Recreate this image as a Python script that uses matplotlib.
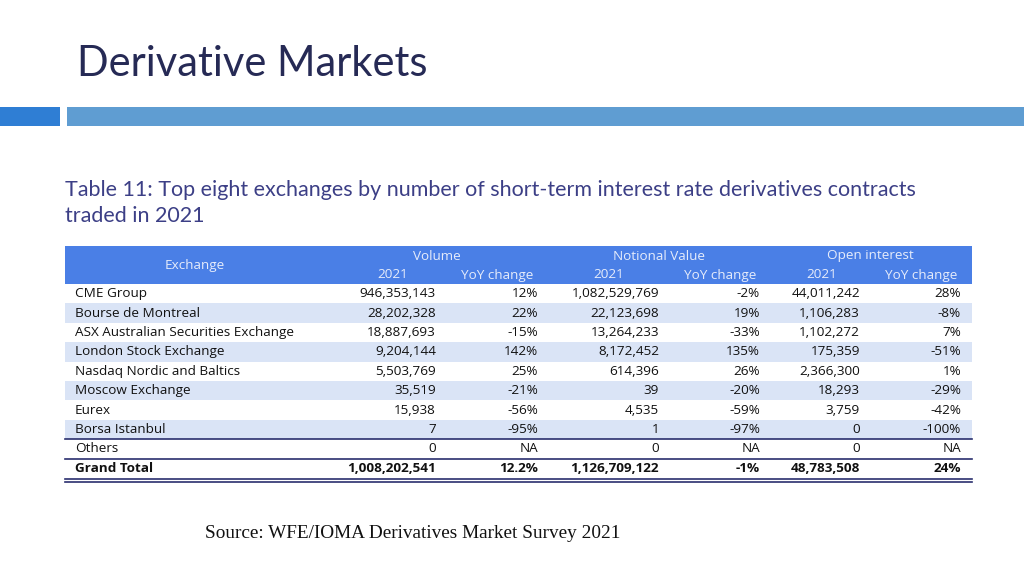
import matplotlib
matplotlib.use("Agg")
import matplotlib.pyplot as plt
from matplotlib.patches import Rectangle

# ---- data ----
exchanges = ["CME Group", "Bourse de Montreal", "ASX Australian Securities Exchange",
             "London Stock Exchange", "Nasdaq Nordic and Baltics", "Moscow Exchange",
             "Eurex", "Borsa Istanbul", "Others"]
volume_2021 = [946353143, 28202328, 18887693, 9204144, 5503769, 35519, 15938, 7, 0]
volume_yoy = ["12%", "22%", "-15%", "142%", "25%", "-21%", "-56%", "-95%", "NA"]
notional_2021 = [1082529769, 22123698, 13264233, 8172452, 614396, 39, 4535, 1, 0]
notional_yoy = ["-2%", "19%", "-33%", "135%", "26%", "-20%", "-59%", "-97%", "NA"]
oi_2021 = [44011242, 1106283, 1102272, 175359, 2366300, 18293, 3759, 0, 0]
oi_yoy = ["28%", "-8%", "7%", "-51%", "1%", "-29%", "-42%", "-100%", "NA"]
total_label = "Grand Total"
total_values = [1008202541, "12.2%", 1126709122, "-1%", 48783508, "24%"]
group_headers = ["Volume", "Notional Value", "Open interest"]
sub_headers = ["2021", "YoY change"]

title = "Derivative Markets"
table_title = ["Table 11: Top eight exchanges by number of short-term interest rate derivatives contracts",
               "traded in 2021"]
source = "Source: WFE/IOMA Derivatives Market Survey 2021"

# ---- figure ----
fig = plt.figure(figsize=(10.24, 5.76), dpi=100)
ax = fig.add_axes([0, 0, 1, 1])
ax.set_xlim(0, 1024)
ax.set_ylim(576, 0)
ax.axis("off")

tfont = "Lato"

ax.text(77, 64, title, fontsize=30, color="#262a55", family=tfont, va="center", ha="left")

# blue bars
ax.add_patch(Rectangle((0, 107), 60, 19, color="#2f7ed4", lw=0))
ax.add_patch(Rectangle((67, 107), 957, 19, color="#5f9dd2", lw=0))

ax.text(65, 190, table_title[0], fontsize=15.5, color="#3c3f86", family=tfont, va="center")
ax.text(65, 216, table_title[1], fontsize=15.5, color="#3c3f86", family=tfont, va="center")

# table geometry
x0, x1 = 65, 972
hdr_top, hdr_bot = 246, 284
row_h = 19.4
fs = 9.7
cfont = "Open Sans"

ax.add_patch(Rectangle((x0, hdr_top), x1 - x0, hdr_bot - hdr_top, color="#4a7fe6", lw=0))
hdr_col = "#e6ecfb"
ax.text(195, 265, "Exchange", fontsize=fs, color=hdr_col, family=cfont, ha="center", va="center")
group_centers = [437, 659, 870]
for g, cx in zip(group_headers, group_centers):
    ax.text(cx, 256, g, fontsize=fs, color=hdr_col, family=cfont, ha="center", va="center")
sub_centers = [(393, 497), (609, 720), (822, 921)]
for c2021, cyoy in sub_centers:
    ax.text(c2021, 275, sub_headers[0], fontsize=fs, color=hdr_col, family=cfont, ha="center", va="center")
    ax.text(cyoy, 275, sub_headers[1], fontsize=fs, color=hdr_col, family=cfont, ha="center", va="center")

right_edges = [436, 538, 659, 760, 860, 961]
cols = [volume_2021, volume_yoy, notional_2021, notional_yoy, oi_2021, oi_yoy]

def fmt(v):
    return f"{v:,}" if isinstance(v, int) else v

for i, name in enumerate(exchanges):
    top = hdr_bot + i * row_h
    cy = top + row_h / 2
    if i % 2 == 1:
        ax.add_patch(Rectangle((x0, top), x1 - x0, row_h, color="#dae4f6", lw=0))
    ax.text(75, cy, name, fontsize=fs, color="#111111", family=cfont, va="center")
    for col, xr in zip(cols, right_edges):
        ax.text(xr, cy, fmt(col[i]), fontsize=fs, color="#111111", family=cfont, ha="right", va="center")

n = len(exchanges)
# lines
y_line1 = hdr_bot + (n - 1) * row_h
y_line2 = hdr_bot + n * row_h
ax.plot([x0, x1], [y_line1, y_line1], color="#2a2f6e", lw=1.2)
ax.plot([x0, x1], [y_line2, y_line2], color="#2a2f6e", lw=1.2)
cy = y_line2 + row_h / 2
ax.text(75, cy, total_label, fontsize=fs, color="#111111", family=cfont, fontweight="bold", va="center")
for v, xr in zip(total_values, right_edges):
    ax.text(xr, cy, fmt(v), fontsize=fs, color="#111111", family=cfont, fontweight="bold", ha="right", va="center")
yb = y_line2 + row_h + 1
ax.plot([x0, x1], [yb, yb], color="#2a2f6e", lw=1.2)
ax.plot([x0, x1], [yb + 3, yb + 3], color="#2a2f6e", lw=1.2)

ax.text(205, 534, source, fontsize=13.9, color="#111111", family="Liberation Serif", va="center")

fig.savefig("out.png", dpi=100)
